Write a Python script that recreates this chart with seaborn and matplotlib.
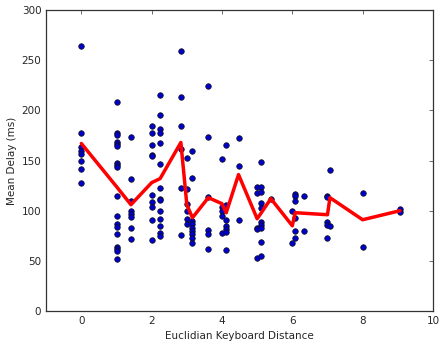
import matplotlib
matplotlib.use('Agg')
import matplotlib.pyplot as plt
import seaborn as sns
import pandas as pd

sns.set_style("white")
plt.rcParams['font.family'] = 'DejaVu Sans'

# Distancias del teclado (columnas del scatter)
distancias = [0, 1, 1.41, 2, 2.24, 2.83, 3, 3.16, 3.61, 4, 4.12, 4.47,
              5, 5.10, 5.39, 6, 6.08, 6.32, 7, 7.07, 8, 9.06]

# Retrasos observados por cada distancia (ms)
retrasos = [
    [264, 177, 163, 160, 157, 150, 142, 128],
    [208, 177, 175, 168, 166, 164, 148, 146, 144, 115, 95, 87, 84, 77, 64, 62, 60, 52],
    [173, 132, 110, 100, 97, 94, 83, 72],
    [184, 177, 165, 156, 155, 116, 109, 104, 91, 71],
    [215, 195, 181, 177, 167, 147, 123, 112, 111, 100, 92, 85, 78, 75],
    [259, 213, 184, 162, 123, 76],
    [153, 122, 107, 100, 92, 87],
    [160, 133, 90, 87, 83, 80, 77, 73, 68],
    [224, 173, 114, 81, 77, 62],
    [152, 104, 100, 95, 78],
    [165, 106, 91, 85, 82, 79, 61],
    [172, 145, 91],
    [124, 118, 83, 82, 53],
    [149, 124, 119, 108, 103, 89, 86, 83, 69, 55],
    [112],
    [100, 68],
    [117, 115, 110, 93, 80, 73],
    [115, 80],
    [115, 114, 89, 86, 73],
    [141, 85],
    [118, 64],
    [102, 99],
]

# Retraso medio por distancia (linea roja)
media_x = [0, 1, 1.41, 2, 2.24, 2.83, 3, 3.16, 3.61, 4, 4.12, 4.47,
           5, 5.10, 5.39, 6, 6.08, 6.32, 7, 7.07, 8, 9.06]
media_y = [167, 124, 106, 128, 132, 168, 106, 93, 113, 107, 98, 136,
           92, 97, 112, 85, 98, 97.5, 96, 113, 91, 100]

filas = [(d, r) for d, lista in zip(distancias, retrasos) for r in lista]
df = pd.DataFrame(filas, columns=['distancia', 'retraso'])

fig, ax = plt.subplots(figsize=(4.4, 3.46), dpi=100)
fig.subplots_adjust(left=0.105, right=0.984, top=0.971, bottom=0.101)

sns.scatterplot(data=df, x='distancia', y='retraso', ax=ax, s=16,
                color='#0000cc', edgecolor='#111111', linewidth=0.5, zorder=2)
sns.lineplot(x=media_x, y=media_y, ax=ax, color='red', linewidth=2.5,
             estimator=None, sort=False, zorder=3)

ax.set_xlim(-1, 10)
ax.set_ylim(0, 300)
ax.set_xticks(range(0, 11, 2))
ax.set_yticks(range(0, 301, 50))
ax.set_xlabel('Euclidian Keyboard Distance', fontsize=7.5)
ax.set_ylabel('Mean Delay (ms)', fontsize=7.5, labelpad=3)
ax.tick_params(direction='in', length=3, width=0.6, top=True, right=True,
               labelsize=7.5, color='#555555')
for sp in ax.spines.values():
    sp.set_color('#333333')
    sp.set_linewidth(0.9)

plt.savefig('out.png', dpi=100)
plt.close()
